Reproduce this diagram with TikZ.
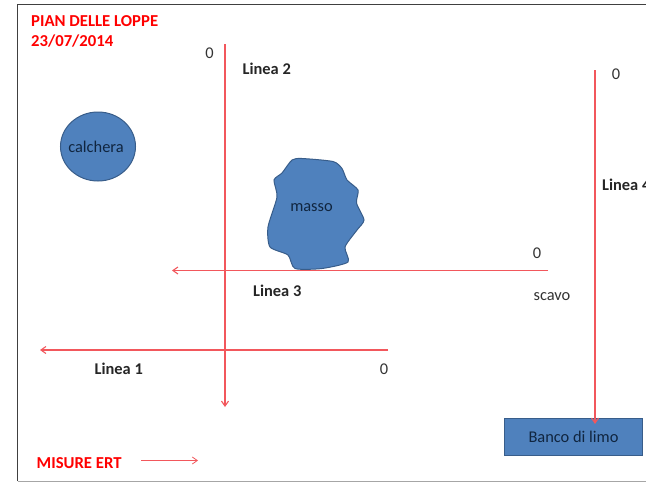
\documentclass[tikz,border=0pt]{standalone}
\usepackage{fontspec}
\setmainfont{Carlito}
\usetikzlibrary{arrows.meta,shapes.geometric}
\definecolor{shapeblue}{HTML}{4F81BD}
\definecolor{shapeedge}{HTML}{385D8A}
\definecolor{linered}{HTML}{F2575C}
\definecolor{titlered}{HTML}{FF0000}
\definecolor{inktext}{HTML}{10253F}
\tikzset{
  x=1pt,y=-1pt,
  redarrow/.style={draw=linered,line width=1.1pt,-{Straight Barb[length=5pt,width=7pt]}},
  bluefill/.style={fill=shapeblue,draw=shapeedge,line width=1pt},
  shapetext/.style={font=\fontsize{16.4}{18}\selectfont,text=inktext,inner sep=0pt},
  linelabel/.style={font=\fontsize{16.4}{18}\selectfont\bfseries,text=black!85,inner sep=0pt},
  zerolabel/.style={font=\fontsize{16.4}{18}\selectfont,text=black!80,inner sep=0pt},
  titletext/.style={font=\fontsize{16.7}{20.5}\selectfont\bfseries,text=titlered,inner sep=0pt,align=left},
}
\begin{document}
\begin{tikzpicture}
\useasboundingbox (0,0) rectangle (646,482);
\clip (0,0) rectangle (646,482);
\fill[white] (0,0) rectangle (646,482);
\draw[black!75,line width=0.9pt] (17.5,481) -- (17.5,4.5) -- (646,4.5);
\draw[black!35,line width=0.9pt] (17.5,481) -- (646,481);

\node[titletext,anchor=north west] (title) at (31,15) {PIAN DELLE LOPPE\\23/07/2014};

% calchera
\node[bluefill,ellipse,minimum width=75pt,minimum height=69pt,inner sep=0pt] (calchera) at (98,146.5) {};
\node[shapetext] (calcheralabel) at (96,147) {calchera};

% masso
\draw[bluefill] plot[smooth cycle,tension=0.4] coordinates {
 (292,160) (302,158.5) (333,161.5) (342,168.5) (347,180) (358,190) (356.5,203)
 (364,220) (357,230) (345,247) (348,262) (322,268.5) (295,268.5) (288,255)
 (270,247) (268,227) (277,197) (274,180) (282,173)};
\node[shapetext] (massolabel) at (311.5,208) {masso};

% banco
\node[bluefill,minimum width=138pt,minimum height=37pt,inner sep=0pt] (banco) at (573.5,436.5) {};
\node[shapetext] (bancolabel) at (573.5,437) {Banco di limo};

% coordinates of the free ends
\coordinate (l1s) at (388,350); \coordinate (l1e) at (40,350);
\coordinate (l2s) at (225,44);  \coordinate (l2e) at (225,407);
\coordinate (l3s) at (548,270.5); \coordinate (l3e) at (172,270.5);
\coordinate (l4s) at (595,70);  \coordinate (l4e) at (595,424);
\coordinate (ms) at (141,460.5); \coordinate (me) at (198,460.5);

\draw[redarrow] (l1s) -- (l1e);
\draw[redarrow] (l2s) -- (l2e);
\draw[redarrow] (l3s) -- (l3e);
\draw[redarrow] (l4s) -- (l4e);
\draw[redarrow,line width=0.8pt] (ms) -- (me);

\node[linelabel,anchor=west] (linea1) at (94.5,369) {Linea 1};
\node[linelabel,anchor=west] (linea2) at (242.5,68.5) {Linea 2};
\node[linelabel,anchor=west] (linea3) at (253,290.5) {Linea 3};
\node[linelabel,anchor=west] (linea4) at (602,185) {Linea 4};

\node[zerolabel] (z2) at (209.5,53) {0};
\node[zerolabel] (z4) at (616,74) {0};
\node[zerolabel] (z3) at (537,253.5) {0};
\node[zerolabel] (z1) at (384,369.5) {0};
\node[zerolabel] (scavo) at (552,296.5) {scavo};

\node[titletext,anchor=west] (misure) at (36.5,463.5) {MISURE ERT};
\end{tikzpicture}
\end{document}
